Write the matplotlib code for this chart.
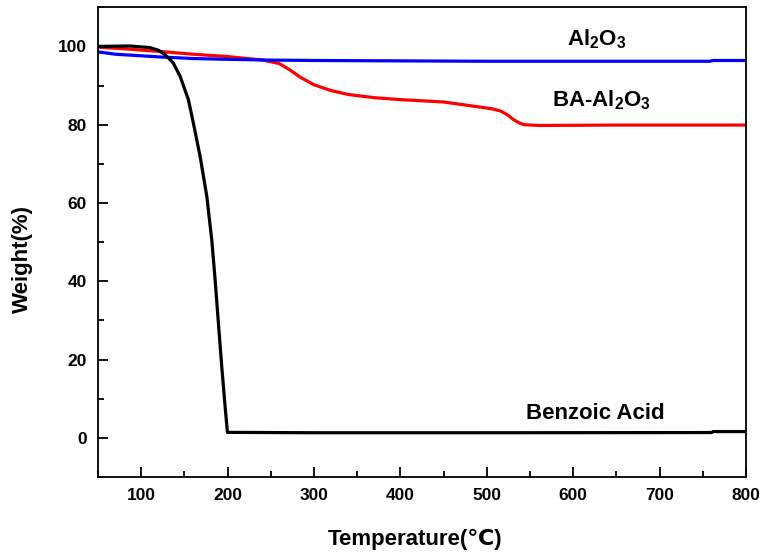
import matplotlib
matplotlib.use("Agg")
import matplotlib.pyplot as plt
from matplotlib.ticker import MultipleLocator

plt.rcParams['font.family'] = ['Liberation Sans', 'DejaVu Sans']
plt.rcParams['mathtext.fontset'] = 'custom'
plt.rcParams['mathtext.rm'] = 'Liberation Sans:bold'
plt.rcParams['mathtext.bf'] = 'Liberation Sans:bold'

# Curvas TGA
temp_ba = [50, 87, 110, 120, 127.6, 137, 145, 154.6, 160.4, 168.2, 176, 181.7, 185.6, 189.4, 193.3, 197.2, 199.8, 300, 500, 760, 762, 800]
peso_ba = [100, 100.1, 99.7, 99.0, 97.9, 95.8, 92.4, 86.4, 80.4, 71.9, 61.6, 50.5, 40.3, 29.2, 18, 7.8, 1.4, 1.3, 1.3, 1.35, 1.6, 1.6]

temp_baal = [50, 80, 122, 160, 200, 241, 260, 272, 285, 300, 320, 340, 370, 400, 450, 492, 505, 516, 524, 531, 537, 543, 560, 650, 800]
peso_baal = [99.8, 99.4, 98.7, 98.0, 97.4, 96.5, 95.6, 94.0, 92.0, 90.2, 88.7, 87.7, 86.9, 86.4, 85.8, 84.5, 84.1, 83.5, 82.5, 81.3, 80.5, 80.0, 79.8, 79.9, 79.9]

temp_al = [50, 70, 100, 122, 160, 200, 250, 300, 400, 500, 600, 700, 758, 762, 800]
peso_al = [98.6, 98.0, 97.6, 97.3, 96.9, 96.7, 96.5, 96.4, 96.3, 96.2, 96.2, 96.2, 96.2, 96.4, 96.4]

fig = plt.figure(figsize=(7.62, 5.58), dpi=100)
ax = fig.add_axes([0.1286, 0.1452, 0.8504, 0.8418])

ax.plot(temp_baal, peso_baal, color='#ff0000', lw=2.3)
ax.plot(temp_al, peso_al, color='#0000ff', lw=2.3)
ax.plot(temp_ba, peso_ba, color='black', lw=2.3)

ax.set_xlim(50, 800)
ax.set_ylim(-10, 110)
ax.xaxis.set_major_locator(MultipleLocator(100))
ax.xaxis.set_minor_locator(MultipleLocator(50))
ax.yaxis.set_major_locator(MultipleLocator(20))
ax.yaxis.set_minor_locator(MultipleLocator(10))
ax.set_yticks([0, 20, 40, 60, 80, 100])
ax.tick_params(which='both', direction='in', top=False, right=False, width=1.3)
ax.tick_params(which='major', length=7, labelsize=12.5, pad=8)
ax.tick_params(which='minor', length=4)
for lab in ax.get_xticklabels() + ax.get_yticklabels():
    lab.set_fontweight('bold')
for s in ax.spines.values():
    s.set_linewidth(1.3)

ax.set_xlabel('Temperature(℃)', fontsize=16, fontweight='bold')
ax.set_ylabel('Weight(%)', fontsize=16, fontweight='bold')
ax.xaxis.set_label_coords(0.489, -0.132)
ax.xaxis.label.set_va('center')
ax.yaxis.set_label_coords(-0.117, 0.464)
ax.yaxis.label.set_va('center')

ax.text(627, 100.2, r'Al$_2$O$_3$', fontsize=16, fontweight='bold', ha='center', va='baseline')
ax.text(633, 84.6, r'BA-Al$_2$O$_3$', fontsize=16, fontweight='bold', ha='center', va='baseline')
ax.text(626, 4.9, 'Benzoic Acid', fontsize=16, fontweight='bold', ha='center', va='baseline')

fig.savefig('out.png', dpi=100)
